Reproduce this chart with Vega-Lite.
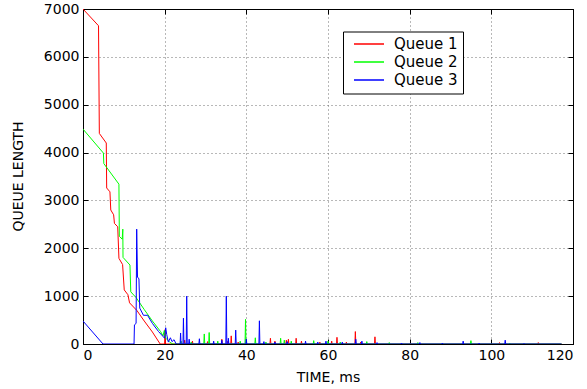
{
  "$schema": "https://vega.github.io/schema/vega-lite/v6.json",
  "width": 490,
  "height": 335,
  "autosize": {"type": "none"},
  "padding": {"left": 83, "top": 9, "right": 14, "bottom": 45},
  "background": "white",
  "config": {
    "view": {"stroke": "black", "strokeWidth": 1},
    "font": "DejaVu Sans",
    "axis": {
      "domainColor": "black",
      "tickColor": "black",
      "labelColor": "black",
      "labelFont": "DejaVu Sans",
      "labelFontSize": 14,
      "titleFont": "DejaVu Sans",
      "titleFontSize": 14,
      "titleFontWeight": "normal",
      "titleColor": "black",
      "gridColor": "#707070",
      "gridDash": [1, 3],
      "gridOpacity": 1,
      "gridWidth": 1,
      "tickSize": -5,
      "labelPadding": 9
    },
    "legend": {
      "labelFont": "DejaVu Sans",
      "labelFontSize": 15,
      "labelColor": "black"
    }
  },
  "data": {"values": [
    {"s":"Queue 1","t":0,"q":7000},{"s":"Queue 1","t":3.8,"q":6650},{"s":"Queue 1","t":4.0,"q":4400},{"s":"Queue 1","t":5.7,"q":4200},{"s":"Queue 1","t":5.8,"q":3260},{"s":"Queue 1","t":6.6,"q":3180},{"s":"Queue 1","t":6.8,"q":2800},{"s":"Queue 1","t":7.5,"q":2700},{"s":"Queue 1","t":7.7,"q":2520},{"s":"Queue 1","t":8.5,"q":2450},{"s":"Queue 1","t":8.8,"q":1790},{"s":"Queue 1","t":9.7,"q":1660},{"s":"Queue 1","t":10.1,"q":1130},{"s":"Queue 1","t":11.0,"q":1030},{"s":"Queue 1","t":11.4,"q":860},{"s":"Queue 1","t":13.2,"q":700},{"s":"Queue 1","t":15.0,"q":480},{"s":"Queue 1","t":17.0,"q":250},{"s":"Queue 1","t":18.9,"q":0},
    {"s":"Queue 1","t":19.98,"q":0},{"s":"Queue 1","t":20.1,"q":300},{"s":"Queue 1","t":20.22,"q":0},
    {"s":"Queue 1","t":24.78,"q":0},{"s":"Queue 1","t":24.9,"q":80},{"s":"Queue 1","t":25.02,"q":0},
    {"s":"Queue 1","t":26.68,"q":0},{"s":"Queue 1","t":26.8,"q":60},{"s":"Queue 1","t":26.92,"q":0},
    {"s":"Queue 1","t":30.38,"q":0},{"s":"Queue 1","t":30.5,"q":50},{"s":"Queue 1","t":30.62,"q":0},
    {"s":"Queue 1","t":33.88,"q":0},{"s":"Queue 1","t":34.0,"q":100},{"s":"Queue 1","t":34.12,"q":0},
    {"s":"Queue 1","t":35.38,"q":0},{"s":"Queue 1","t":35.5,"q":60},{"s":"Queue 1","t":35.62,"q":0},
    {"s":"Queue 1","t":36.18,"q":0},{"s":"Queue 1","t":36.3,"q":170},{"s":"Queue 1","t":36.42,"q":0},
    {"s":"Queue 1","t":37.88,"q":0},{"s":"Queue 1","t":38.0,"q":40},{"s":"Queue 1","t":38.12,"q":0},
    {"s":"Queue 1","t":45.78,"q":0},{"s":"Queue 1","t":45.9,"q":120},{"s":"Queue 1","t":46.02,"q":0},
    {"s":"Queue 1","t":46.88,"q":0},{"s":"Queue 1","t":47.0,"q":60},{"s":"Queue 1","t":47.12,"q":0},
    {"s":"Queue 1","t":49.68,"q":0},{"s":"Queue 1","t":49.8,"q":80},{"s":"Queue 1","t":49.92,"q":0},
    {"s":"Queue 1","t":50.18,"q":0},{"s":"Queue 1","t":50.3,"q":100},{"s":"Queue 1","t":50.42,"q":0},
    {"s":"Queue 1","t":52.08,"q":0},{"s":"Queue 1","t":52.2,"q":120},{"s":"Queue 1","t":52.32,"q":0},
    {"s":"Queue 1","t":53.38,"q":0},{"s":"Queue 1","t":53.5,"q":60},{"s":"Queue 1","t":53.62,"q":0},
    {"s":"Queue 1","t":57.88,"q":0},{"s":"Queue 1","t":58.0,"q":40},{"s":"Queue 1","t":58.12,"q":0},
    {"s":"Queue 1","t":60.78,"q":0},{"s":"Queue 1","t":60.9,"q":60},{"s":"Queue 1","t":61.02,"q":0},
    {"s":"Queue 1","t":62.08,"q":0},{"s":"Queue 1","t":62.2,"q":140},{"s":"Queue 1","t":62.32,"q":0},
    {"s":"Queue 1","t":64.38,"q":0},{"s":"Queue 1","t":64.5,"q":40},{"s":"Queue 1","t":64.62,"q":0},
    {"s":"Queue 1","t":66.58,"q":0},{"s":"Queue 1","t":66.7,"q":260},{"s":"Queue 1","t":66.82,"q":0},
    {"s":"Queue 1","t":67.88,"q":0},{"s":"Queue 1","t":68.0,"q":40},{"s":"Queue 1","t":68.12,"q":0},
    {"s":"Queue 1","t":71.38,"q":0},{"s":"Queue 1","t":71.5,"q":150},{"s":"Queue 1","t":71.62,"q":0},
    {"s":"Queue 1","t":80.08,"q":0},{"s":"Queue 1","t":80.2,"q":20},{"s":"Queue 1","t":80.32,"q":0},
    {"s":"Queue 1","t":101.88,"q":0},{"s":"Queue 1","t":102.0,"q":30},{"s":"Queue 1","t":102.12,"q":0},
    {"s":"Queue 1","t":111.38,"q":0},{"s":"Queue 1","t":111.5,"q":30},{"s":"Queue 1","t":111.62,"q":0},
    {"s":"Queue 1","t":117.2,"q":0},

    {"s":"Queue 2","t":0,"q":4490},{"s":"Queue 2","t":5.0,"q":3990},{"s":"Queue 2","t":5.1,"q":3770},{"s":"Queue 2","t":8.8,"q":3340},{"s":"Queue 2","t":8.9,"q":2250},{"s":"Queue 2","t":9.6,"q":2190},{"s":"Queue 2","t":9.75,"q":2400},{"s":"Queue 2","t":9.8,"q":1810},{"s":"Queue 2","t":11.5,"q":1650},{"s":"Queue 2","t":11.7,"q":1090},{"s":"Queue 2","t":13.0,"q":970},{"s":"Queue 2","t":15.0,"q":720},{"s":"Queue 2","t":17.0,"q":480},{"s":"Queue 2","t":19.0,"q":260},{"s":"Queue 2","t":19.6,"q":170},{"s":"Queue 2","t":19.9,"q":280},{"s":"Queue 2","t":20.3,"q":120},{"s":"Queue 2","t":21.2,"q":40},{"s":"Queue 2","t":22.0,"q":0},
    {"s":"Queue 2","t":23.88,"q":0},{"s":"Queue 2","t":24.0,"q":60},{"s":"Queue 2","t":24.12,"q":0},
    {"s":"Queue 2","t":26.38,"q":0},{"s":"Queue 2","t":26.5,"q":40},{"s":"Queue 2","t":26.62,"q":0},
    {"s":"Queue 2","t":29.58,"q":0},{"s":"Queue 2","t":29.7,"q":210},{"s":"Queue 2","t":29.82,"q":0},
    {"s":"Queue 2","t":30.78,"q":0},{"s":"Queue 2","t":30.9,"q":240},{"s":"Queue 2","t":31.02,"q":0},
    {"s":"Queue 2","t":32.88,"q":0},{"s":"Queue 2","t":33.0,"q":60},{"s":"Queue 2","t":33.12,"q":0},
    {"s":"Queue 2","t":38.38,"q":0},{"s":"Queue 2","t":38.5,"q":60},{"s":"Queue 2","t":38.62,"q":0},
    {"s":"Queue 2","t":39.68,"q":0},{"s":"Queue 2","t":39.8,"q":515},{"s":"Queue 2","t":39.92,"q":0},
    {"s":"Queue 2","t":42.08,"q":0},{"s":"Queue 2","t":42.2,"q":130},{"s":"Queue 2","t":42.32,"q":0},
    {"s":"Queue 2","t":44.68,"q":0},{"s":"Queue 2","t":44.8,"q":40},{"s":"Queue 2","t":44.92,"q":0},
    {"s":"Queue 2","t":48.28,"q":0},{"s":"Queue 2","t":48.4,"q":120},{"s":"Queue 2","t":48.52,"q":0},
    {"s":"Queue 2","t":49.18,"q":0},{"s":"Queue 2","t":49.3,"q":80},{"s":"Queue 2","t":49.42,"q":0},
    {"s":"Queue 2","t":50.88,"q":0},{"s":"Queue 2","t":51.0,"q":60},{"s":"Queue 2","t":51.12,"q":0},
    {"s":"Queue 2","t":56.38,"q":0},{"s":"Queue 2","t":56.5,"q":70},{"s":"Queue 2","t":56.62,"q":0},
    {"s":"Queue 2","t":59.88,"q":0},{"s":"Queue 2","t":60.0,"q":60},{"s":"Queue 2","t":60.12,"q":0},
    {"s":"Queue 2","t":62.88,"q":0},{"s":"Queue 2","t":63.0,"q":40},{"s":"Queue 2","t":63.12,"q":0},
    {"s":"Queue 2","t":69.38,"q":0},{"s":"Queue 2","t":69.5,"q":50},{"s":"Queue 2","t":69.62,"q":0},
    {"s":"Queue 2","t":74.88,"q":0},{"s":"Queue 2","t":75.0,"q":30},{"s":"Queue 2","t":75.12,"q":0},
    {"s":"Queue 2","t":81.88,"q":0},{"s":"Queue 2","t":82.0,"q":30},{"s":"Queue 2","t":82.12,"q":0},
    {"s":"Queue 2","t":87.88,"q":0},{"s":"Queue 2","t":88.0,"q":20},{"s":"Queue 2","t":88.12,"q":0},
    {"s":"Queue 2","t":94.88,"q":0},{"s":"Queue 2","t":95.0,"q":70},{"s":"Queue 2","t":95.12,"q":0},
    {"s":"Queue 2","t":104.38,"q":0},{"s":"Queue 2","t":104.5,"q":20},{"s":"Queue 2","t":104.62,"q":0},
    {"s":"Queue 2","t":117.2,"q":0},

    {"s":"Queue 3","t":0,"q":480},{"s":"Queue 3","t":4.9,"q":0},{"s":"Queue 3","t":12.5,"q":0},{"s":"Queue 3","t":12.6,"q":400},{"s":"Queue 3","t":13.0,"q":430},{"s":"Queue 3","t":13.15,"q":2400},{"s":"Queue 3","t":13.35,"q":1400},{"s":"Queue 3","t":13.7,"q":1360},{"s":"Queue 3","t":13.9,"q":750},{"s":"Queue 3","t":14.8,"q":600},{"s":"Queue 3","t":15.8,"q":600},{"s":"Queue 3","t":17.0,"q":430},{"s":"Queue 3","t":18.5,"q":260},{"s":"Queue 3","t":20.0,"q":120},{"s":"Queue 3","t":20.25,"q":340},{"s":"Queue 3","t":20.5,"q":200},{"s":"Queue 3","t":20.9,"q":40},{"s":"Queue 3","t":21.4,"q":130},{"s":"Queue 3","t":21.8,"q":50},{"s":"Queue 3","t":22.3,"q":90},{"s":"Queue 3","t":22.8,"q":0},
    {"s":"Queue 3","t":23.78,"q":0},{"s":"Queue 3","t":23.9,"q":230},{"s":"Queue 3","t":24.02,"q":0},
    {"s":"Queue 3","t":24.48,"q":0},{"s":"Queue 3","t":24.6,"q":540},{"s":"Queue 3","t":24.72,"q":0},
    {"s":"Queue 3","t":25.28,"q":0},{"s":"Queue 3","t":25.4,"q":1000},{"s":"Queue 3","t":25.52,"q":0},
    {"s":"Queue 3","t":25.88,"q":0},{"s":"Queue 3","t":26.0,"q":100},{"s":"Queue 3","t":26.12,"q":0},
    {"s":"Queue 3","t":28.38,"q":0},{"s":"Queue 3","t":28.5,"q":110},{"s":"Queue 3","t":28.62,"q":0},
    {"s":"Queue 3","t":31.88,"q":0},{"s":"Queue 3","t":32.0,"q":60},{"s":"Queue 3","t":32.12,"q":0},
    {"s":"Queue 3","t":33.88,"q":0},{"s":"Queue 3","t":34.0,"q":80},{"s":"Queue 3","t":34.12,"q":0},
    {"s":"Queue 3","t":34.98,"q":0},{"s":"Queue 3","t":35.1,"q":1000},{"s":"Queue 3","t":35.22,"q":0},
    {"s":"Queue 3","t":35.48,"q":0},{"s":"Queue 3","t":35.6,"q":120},{"s":"Queue 3","t":35.72,"q":0},
    {"s":"Queue 3","t":37.28,"q":0},{"s":"Queue 3","t":37.4,"q":290},{"s":"Queue 3","t":37.52,"q":0},
    {"s":"Queue 3","t":39.88,"q":0},{"s":"Queue 3","t":40.0,"q":100},{"s":"Queue 3","t":40.12,"q":0},
    {"s":"Queue 3","t":43.08,"q":0},{"s":"Queue 3","t":43.2,"q":485},{"s":"Queue 3","t":43.32,"q":0},
    {"s":"Queue 3","t":44.18,"q":0},{"s":"Queue 3","t":44.3,"q":50},{"s":"Queue 3","t":44.42,"q":0},
    {"s":"Queue 3","t":46.88,"q":0},{"s":"Queue 3","t":47.0,"q":40},{"s":"Queue 3","t":47.12,"q":0},
    {"s":"Queue 3","t":49.88,"q":0},{"s":"Queue 3","t":50.0,"q":50},{"s":"Queue 3","t":50.12,"q":0},
    {"s":"Queue 3","t":54.38,"q":0},{"s":"Queue 3","t":54.5,"q":60},{"s":"Queue 3","t":54.62,"q":0},
    {"s":"Queue 3","t":57.38,"q":0},{"s":"Queue 3","t":57.5,"q":40},{"s":"Queue 3","t":57.62,"q":0},
    {"s":"Queue 3","t":59.38,"q":0},{"s":"Queue 3","t":59.5,"q":60},{"s":"Queue 3","t":59.62,"q":0},
    {"s":"Queue 3","t":63.38,"q":0},{"s":"Queue 3","t":63.5,"q":40},{"s":"Queue 3","t":63.62,"q":0},
    {"s":"Queue 3","t":66.68,"q":0},{"s":"Queue 3","t":66.8,"q":100},{"s":"Queue 3","t":66.92,"q":0},
    {"s":"Queue 3","t":68.18,"q":0},{"s":"Queue 3","t":68.3,"q":60},{"s":"Queue 3","t":68.42,"q":0},
    {"s":"Queue 3","t":71.88,"q":0},{"s":"Queue 3","t":72.0,"q":30},{"s":"Queue 3","t":72.12,"q":0},
    {"s":"Queue 3","t":77.88,"q":0},{"s":"Queue 3","t":78.0,"q":20},{"s":"Queue 3","t":78.12,"q":0},
    {"s":"Queue 3","t":82.38,"q":0},{"s":"Queue 3","t":82.5,"q":30},{"s":"Queue 3","t":82.62,"q":0},
    {"s":"Queue 3","t":87.88,"q":0},{"s":"Queue 3","t":88.0,"q":20},{"s":"Queue 3","t":88.12,"q":0},
    {"s":"Queue 3","t":92.98,"q":0},{"s":"Queue 3","t":93.1,"q":60},{"s":"Queue 3","t":93.22,"q":0},
    {"s":"Queue 3","t":96.88,"q":0},{"s":"Queue 3","t":97.0,"q":20},{"s":"Queue 3","t":97.12,"q":0},
    {"s":"Queue 3","t":103.28,"q":0},{"s":"Queue 3","t":103.4,"q":80},{"s":"Queue 3","t":103.52,"q":0},
    {"s":"Queue 3","t":107.88,"q":0},{"s":"Queue 3","t":108.0,"q":15},{"s":"Queue 3","t":108.12,"q":0},
    {"s":"Queue 3","t":117.2,"q":0}
  ]},
  "resolve": {"axis": {"x": "independent", "y": "independent"}},
  "layer": [
    {
      "mark": {"type": "line", "strokeWidth": 1, "clip": true},
      "encoding": {
        "x": {"field": "t", "type": "quantitative",
              "scale": {"domain": [0, 120], "nice": false},
              "axis": {"orient": "bottom", "values": [0, 20, 40, 60, 80, 100, 120], "format": "d", "title": "TIME, ms", "grid": true, "titleX": 245, "titleY": 37, "titleBaseline": "alphabetic"}},
        "y": {"field": "q", "type": "quantitative",
              "scale": {"domain": [0, 7000], "nice": false},
              "axis": {"orient": "left", "values": [0, 1000, 2000, 3000, 4000, 5000, 6000, 7000], "format": "d", "title": "QUEUE LENGTH", "grid": true, "titleX": -61, "titleY": 167, "titleAngle": -90, "titleAlign": "center", "titleBaseline": "alphabetic"}},
        "stroke": {"field": "s", "type": "nominal",
                  "scale": {"domain": ["Queue 1", "Queue 2", "Queue 3"], "range": ["#ff0000", "#00ff00", "#0000ff"]},
                  "legend": {"orient": "none", "legendX": 260, "legendY": 22.5, "title": null,
                             "strokeColor": "black", "fillColor": "white", "padding": 5,
                             "symbolType": "stroke", "symbolSize": 900, "symbolStrokeWidth": 1.5,
                             "symbolOffset": 5, "clipHeight": 15, "rowPadding": 2, "labelOffset": 9}}
      }
    },
    {
      "mark": {"type": "point", "opacity": 0},
      "encoding": {
        "x": {"field": "t", "type": "quantitative",
              "axis": {"orient": "top", "values": [0, 20, 40, 60, 80, 100, 120], "labels": false, "title": null, "grid": false}},
        "y": {"field": "q", "type": "quantitative",
              "axis": {"orient": "right", "values": [0, 1000, 2000, 3000, 4000, 5000, 6000, 7000], "labels": false, "title": null, "grid": false}}
      }
    }
  ]
}
